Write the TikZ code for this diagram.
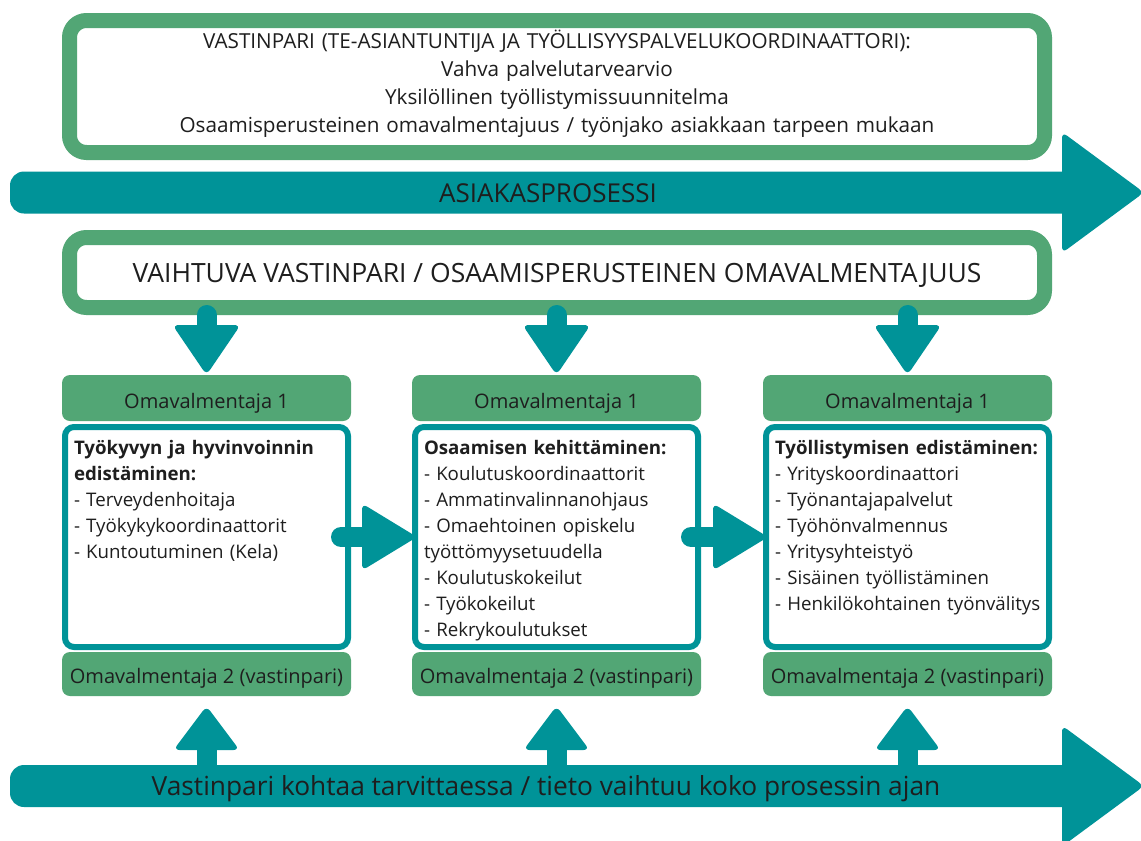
\documentclass[tikz,border=0pt]{standalone}
\usepackage{fontspec}
\setmainfont{Open Sans}
\usetikzlibrary{calc}
\definecolor{ggreen}{HTML}{52A675}
\definecolor{tteal}{HTML}{009398}
\definecolor{ink}{HTML}{1E1E1E}
\newcommand{\fs}[2]{\fontsize{#1pt}{#2pt}\selectfont}
\begin{document}
\begin{tikzpicture}[x=1pt,y=-1pt,
  every node/.style={outer sep=0pt, inner sep=0pt, text=ink},
  greenframe/.style={draw=ggreen, line width=15pt, fill=white, rounded corners=17pt},
  greencell/.style={fill=ggreen, rounded corners=8pt, minimum width=289pt},
  contentbox/.style={draw=tteal, line width=6pt, fill=white, rounded corners=9pt, minimum width=283pt, minimum height=220pt},
  itemtext/.style={anchor=base west, text width=300pt, align=left, font=\fs{18.7}{26}},
  shaft/.style={draw=tteal, line width=20pt, line cap=round},
  headtri/.style={fill=tteal, rounded corners=6pt},
  bigbody/.style={fill=tteal, rounded corners=14pt},
  celltext/.style={font=\fs{20}{24}, text depth=0pt}
]
\useasboundingbox (0,0) rectangle (1141,841);
\fill[white] (0,0) rectangle (1141,841);

% top box
\node[greenframe, minimum width=975pt, minimum height=132pt] (topbox) at (557,86.5) {};
\node[anchor=base, text width=950pt, align=center, font=\fs{20.7}{28}] (toptext) at (557,48.5)
  {VASTINPARI (TE-ASIANTUNTIJA JA TYÖLLISYYSPALVELUKOORDINAATTORI):\\
   Vahva palvelutarvearvio\\
   Yksilöllinen työllistymissuunnitelma\\
   Osaamisperusteinen omavalmentajuus / työnjako asiakkaan tarpeen mukaan};

% process arrow
\coordinate (p1s) at (10,192.5);
\coordinate (p1e) at (1144,192.5);
\fill[bigbody] ($(p1s)+(0,-21)$) rectangle ($(p1s)+(1075,21)$);
\fill[headtri] ($(p1e)+(-82,-60.5)$) -- (p1e) -- ($(p1e)+(-82,60.5)$) -- cycle;
\node[font=\fs{26}{30}, text height=17pt, text depth=0pt] (proc) at (548,193.5) {ASIAKASPROSESSI};

% second box
\node[greenframe, minimum width=975pt, minimum height=70pt, font=\fs{26.5}{30}, text height=19pt, text depth=0pt]
  (vaihtuva) at (557,272.5) {VAIHTUVA VASTINPARI / OSAAMISPERUSTEINEN OMAVALMENTAJUUS};

% columns
\node[greencell, minimum height=46pt, celltext, text height=21pt] (h1) at (206.5,398) {Omavalmentaja 1};
\node[greencell, minimum height=46pt, celltext, text height=21pt] (h2) at (556.5,398) {Omavalmentaja 1};
\node[greencell, minimum height=46pt, celltext, text height=21pt] (h3) at (907.5,398) {Omavalmentaja 1};

\node[contentbox] (c1) at (206.5,537) {};
\node[contentbox] (c2) at (556.5,537) {};
\node[contentbox] (c3) at (907.5,537) {};

\node[greencell, minimum height=44pt, celltext, text height=19pt] (f1) at (206.5,674) {Omavalmentaja 2 (vastinpari)};
\node[greencell, minimum height=44pt, celltext, text height=19pt] (f2) at (556.5,674) {Omavalmentaja 2 (vastinpari)};
\node[greencell, minimum height=44pt, celltext, text height=19pt] (f3) at (907.5,674) {Omavalmentaja 2 (vastinpari)};

\node[itemtext] (t1) at (74,454) {\textbf{Työkyvyn ja hyvinvoinnin}\\\textbf{edistäminen:}\\- Terveydenhoitaja\\- Työkykykoordinaattorit\\- Kuntoutuminen (Kela)};
\node[itemtext] (t2) at (424,454) {\textbf{Osaamisen kehittäminen:}\\- Koulutuskoordinaattorit\\- Ammatinvalinnanohjaus\\- Omaehtoinen opiskelu\\työttömyysetuudella\\- Koulutuskokeilut\\- Työkokeilut\\- Rekrykoulutukset};
\node[itemtext] (t3) at (775,454) {\textbf{Työllistymisen edistäminen:}\\- Yrityskoordinaattori\\- Työnantajapalvelut\\- Työhönvalmennus\\- Yritysyhteistyö\\- Sisäinen työllistäminen\\- Henkilökohtainen työnvälitys};

% down arrows
\foreach \h in {h1,h2,h3}{
  \draw[shaft] ($(\h.north |- vaihtuva.south)+(0,7.5)$) -- ($(\h.north)+(0,-40)$);
  \fill[headtri] ($(\h.north)+(-34,-50)$) -- (\h.north) -- ($(\h.north)+(34,-50)$) -- cycle;
}

% horizontal arrows
\draw[shaft] ($(c1.east)+(-7,0)$) -- ($(c2.west)+(-48,0)$);
\fill[headtri] ($(c2.west)+(-53,-33.5)$) -- ($(c2.west)+(2,0)$) -- ($(c2.west)+(-53,33.5)$) -- cycle;
\draw[shaft] ($(c2.east)+(-7,0)$) -- ($(c3.west)+(-48,0)$);
\fill[headtri] ($(c3.west)+(-53,-33.5)$) -- ($(c3.west)+(2,0)$) -- ($(c3.west)+(-53,33.5)$) -- cycle;

% bottom arrow
\coordinate (p2s) at (10,786);
\coordinate (p2e) at (1144,786);
\fill[bigbody] ($(p2s)+(0,-21)$) rectangle ($(p2s)+(1075,21)$);
\fill[headtri] ($(p2e)+(-82,-60.5)$) -- (p2e) -- ($(p2e)+(-82,60.5)$) -- cycle;

% up arrows
\foreach \f in {f1,f2,f3}{
  \draw[shaft] (\f.south |- p2s) -- ($(\f.south)+(0,44)$);
  \fill[headtri] ($(\f.south)+(-33,54)$) -- ($(\f.south)+(0,10)$) -- ($(\f.south)+(33,54)$) -- cycle;
}

\node[font=\fs{26.3}{30}, text height=18.5pt, text depth=0pt] (vast) at (546,786)
  {Vastinpari kohtaa tarvittaessa / tieto vaihtuu koko prosessin ajan};
\end{tikzpicture}
\end{document}
